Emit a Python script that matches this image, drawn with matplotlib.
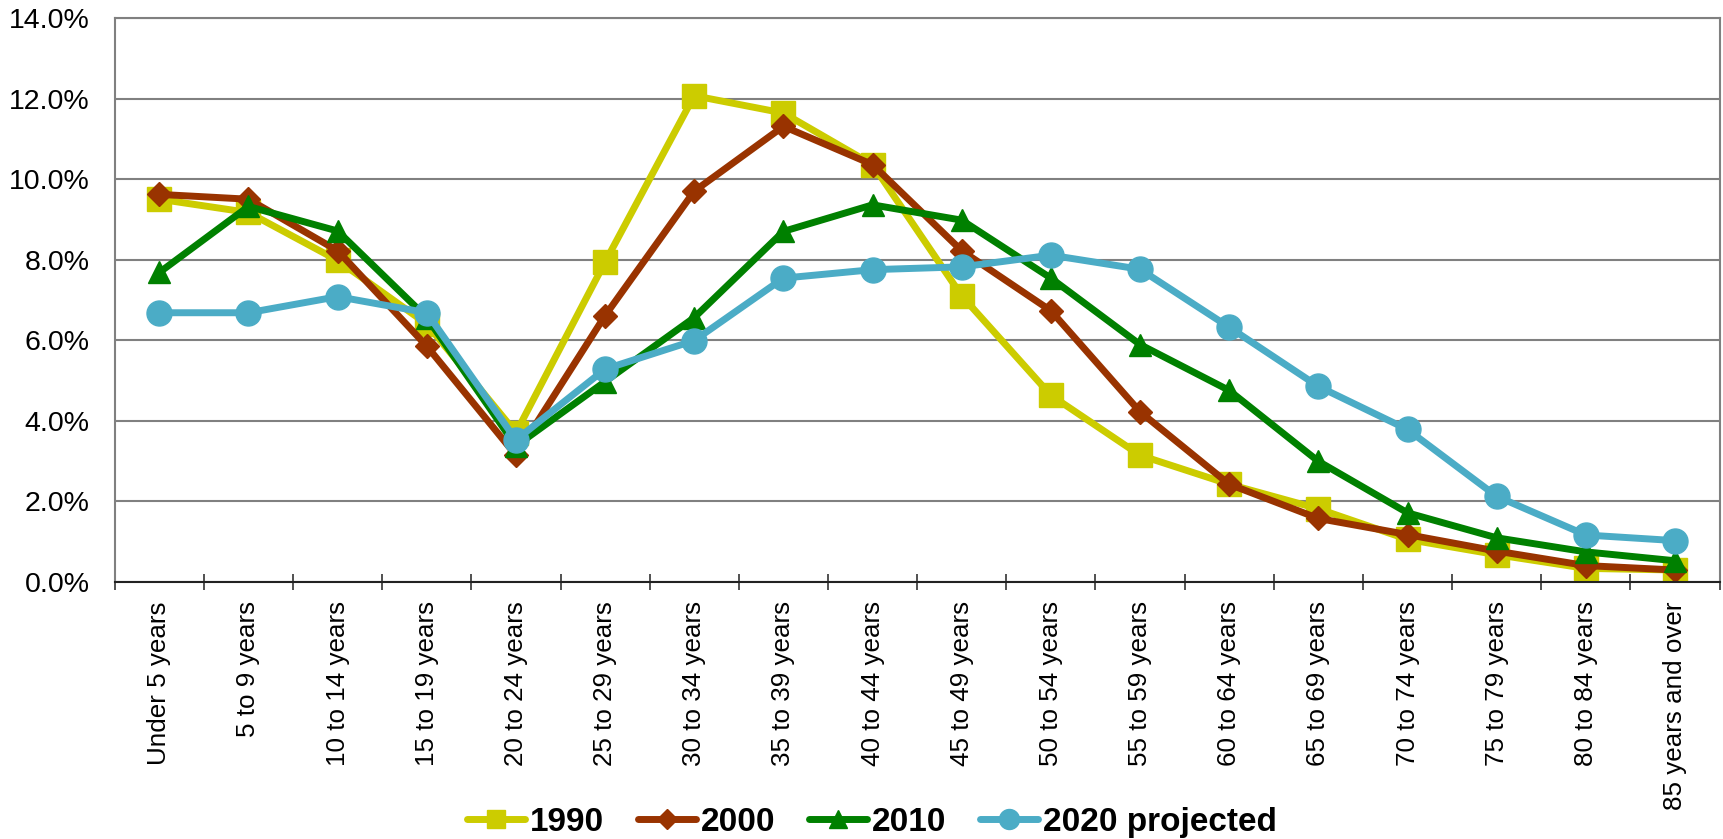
import matplotlib.pyplot as plt
import numpy as np
from matplotlib.ticker import FuncFormatter

# Age groups and population share (%) per year
ages = ["Under 5 years", "5 to 9 years", "10 to 14 years", "15 to 19 years",
        "20 to 24 years", "25 to 29 years", "30 to 34 years", "35 to 39 years",
        "40 to 44 years", "45 to 49 years", "50 to 54 years", "55 to 59 years",
        "60 to 64 years", "65 to 69 years", "70 to 74 years", "75 to 79 years",
        "80 to 84 years", "85 years and over"]

y1990 = [9.5, 9.17, 7.98, 6.4, 3.7, 7.94, 12.07, 11.64, 10.36, 7.1,
         4.63, 3.14, 2.42, 1.81, 1.05, 0.67, 0.33, 0.29]
y2000 = [9.62, 9.5, 8.22, 5.85, 3.14, 6.61, 9.7, 11.31, 10.36, 8.22,
         6.73, 4.22, 2.42, 1.57, 1.17, 0.76, 0.4, 0.29]
y2010 = [7.68, 9.32, 8.71, 6.56, 3.37, 4.97, 6.56, 8.7, 9.36, 8.98,
         7.54, 5.89, 4.75, 2.99, 1.71, 1.09, 0.74, 0.52]
y2020 = [6.68, 6.68, 7.08, 6.68, 3.52, 5.28, 5.99, 7.54, 7.75, 7.82,
         8.11, 7.76, 6.32, 4.85, 3.78, 2.12, 1.16, 1.02]

series = [("1990", y1990, "#CCCC00", "s", 17),
          ("2000", y2000, "#993300", "D", 12.5),
          ("2010", y2010, "#008000", "^", 16),
          ("2020 projected", y2020, "#4BACC6", "o", 18)]

plt.rcParams['font.family'] = ['Liberation Sans', 'DejaVu Sans']

fig = plt.figure(figsize=(17.23, 8.39), dpi=100)
ax = fig.add_axes([0.0666, 0.3067, 0.9314, 0.6718])

x = np.arange(len(ages))
for name, vals, col, mk, ms in series:
    ax.plot(x, vals, color=col, lw=5, marker=mk, markersize=ms,
            markeredgecolor=col, label=name, solid_capstyle='round')

ax.set_xlim(-0.5, len(ages) - 0.5)
ax.set_ylim(0, 14)
ax.set_yticks(np.arange(0, 14.1, 2))
ax.yaxis.set_major_formatter(FuncFormatter(lambda v, p: f"{v:.1f}%"))
ax.tick_params(axis='y', length=0, labelsize=20.5, pad=18)
ax.grid(axis='y', color='#808080', lw=1.5)
ax.set_axisbelow(True)

ax.set_xticks(x)
ax.set_xticklabels(ages, rotation=90, fontsize=18.7)
ax.tick_params(axis='x', which='major', length=0, pad=14)
ax.set_xticks(np.arange(-0.5, len(ages)), minor=True)
ax.tick_params(axis='x', which='minor', direction='inout', length=11.5,
               width=1.2, color='#333333')

for s in ['left', 'right', 'top']:
    ax.spines[s].set_color('#808080')
    ax.spines[s].set_linewidth(1.5)
ax.spines['bottom'].set_color('#222222')
ax.spines['bottom'].set_linewidth(1.5)

leg = fig.legend(loc='center', bbox_to_anchor=(0.506, 0.02), ncol=4,
                 frameon=False, handlelength=1.75, handletextpad=0.15,
                 columnspacing=1.0, markerscale=0.8, borderpad=0,
                 prop={'weight': 'bold', 'size': 24})

fig.savefig('out.png', dpi=100)
